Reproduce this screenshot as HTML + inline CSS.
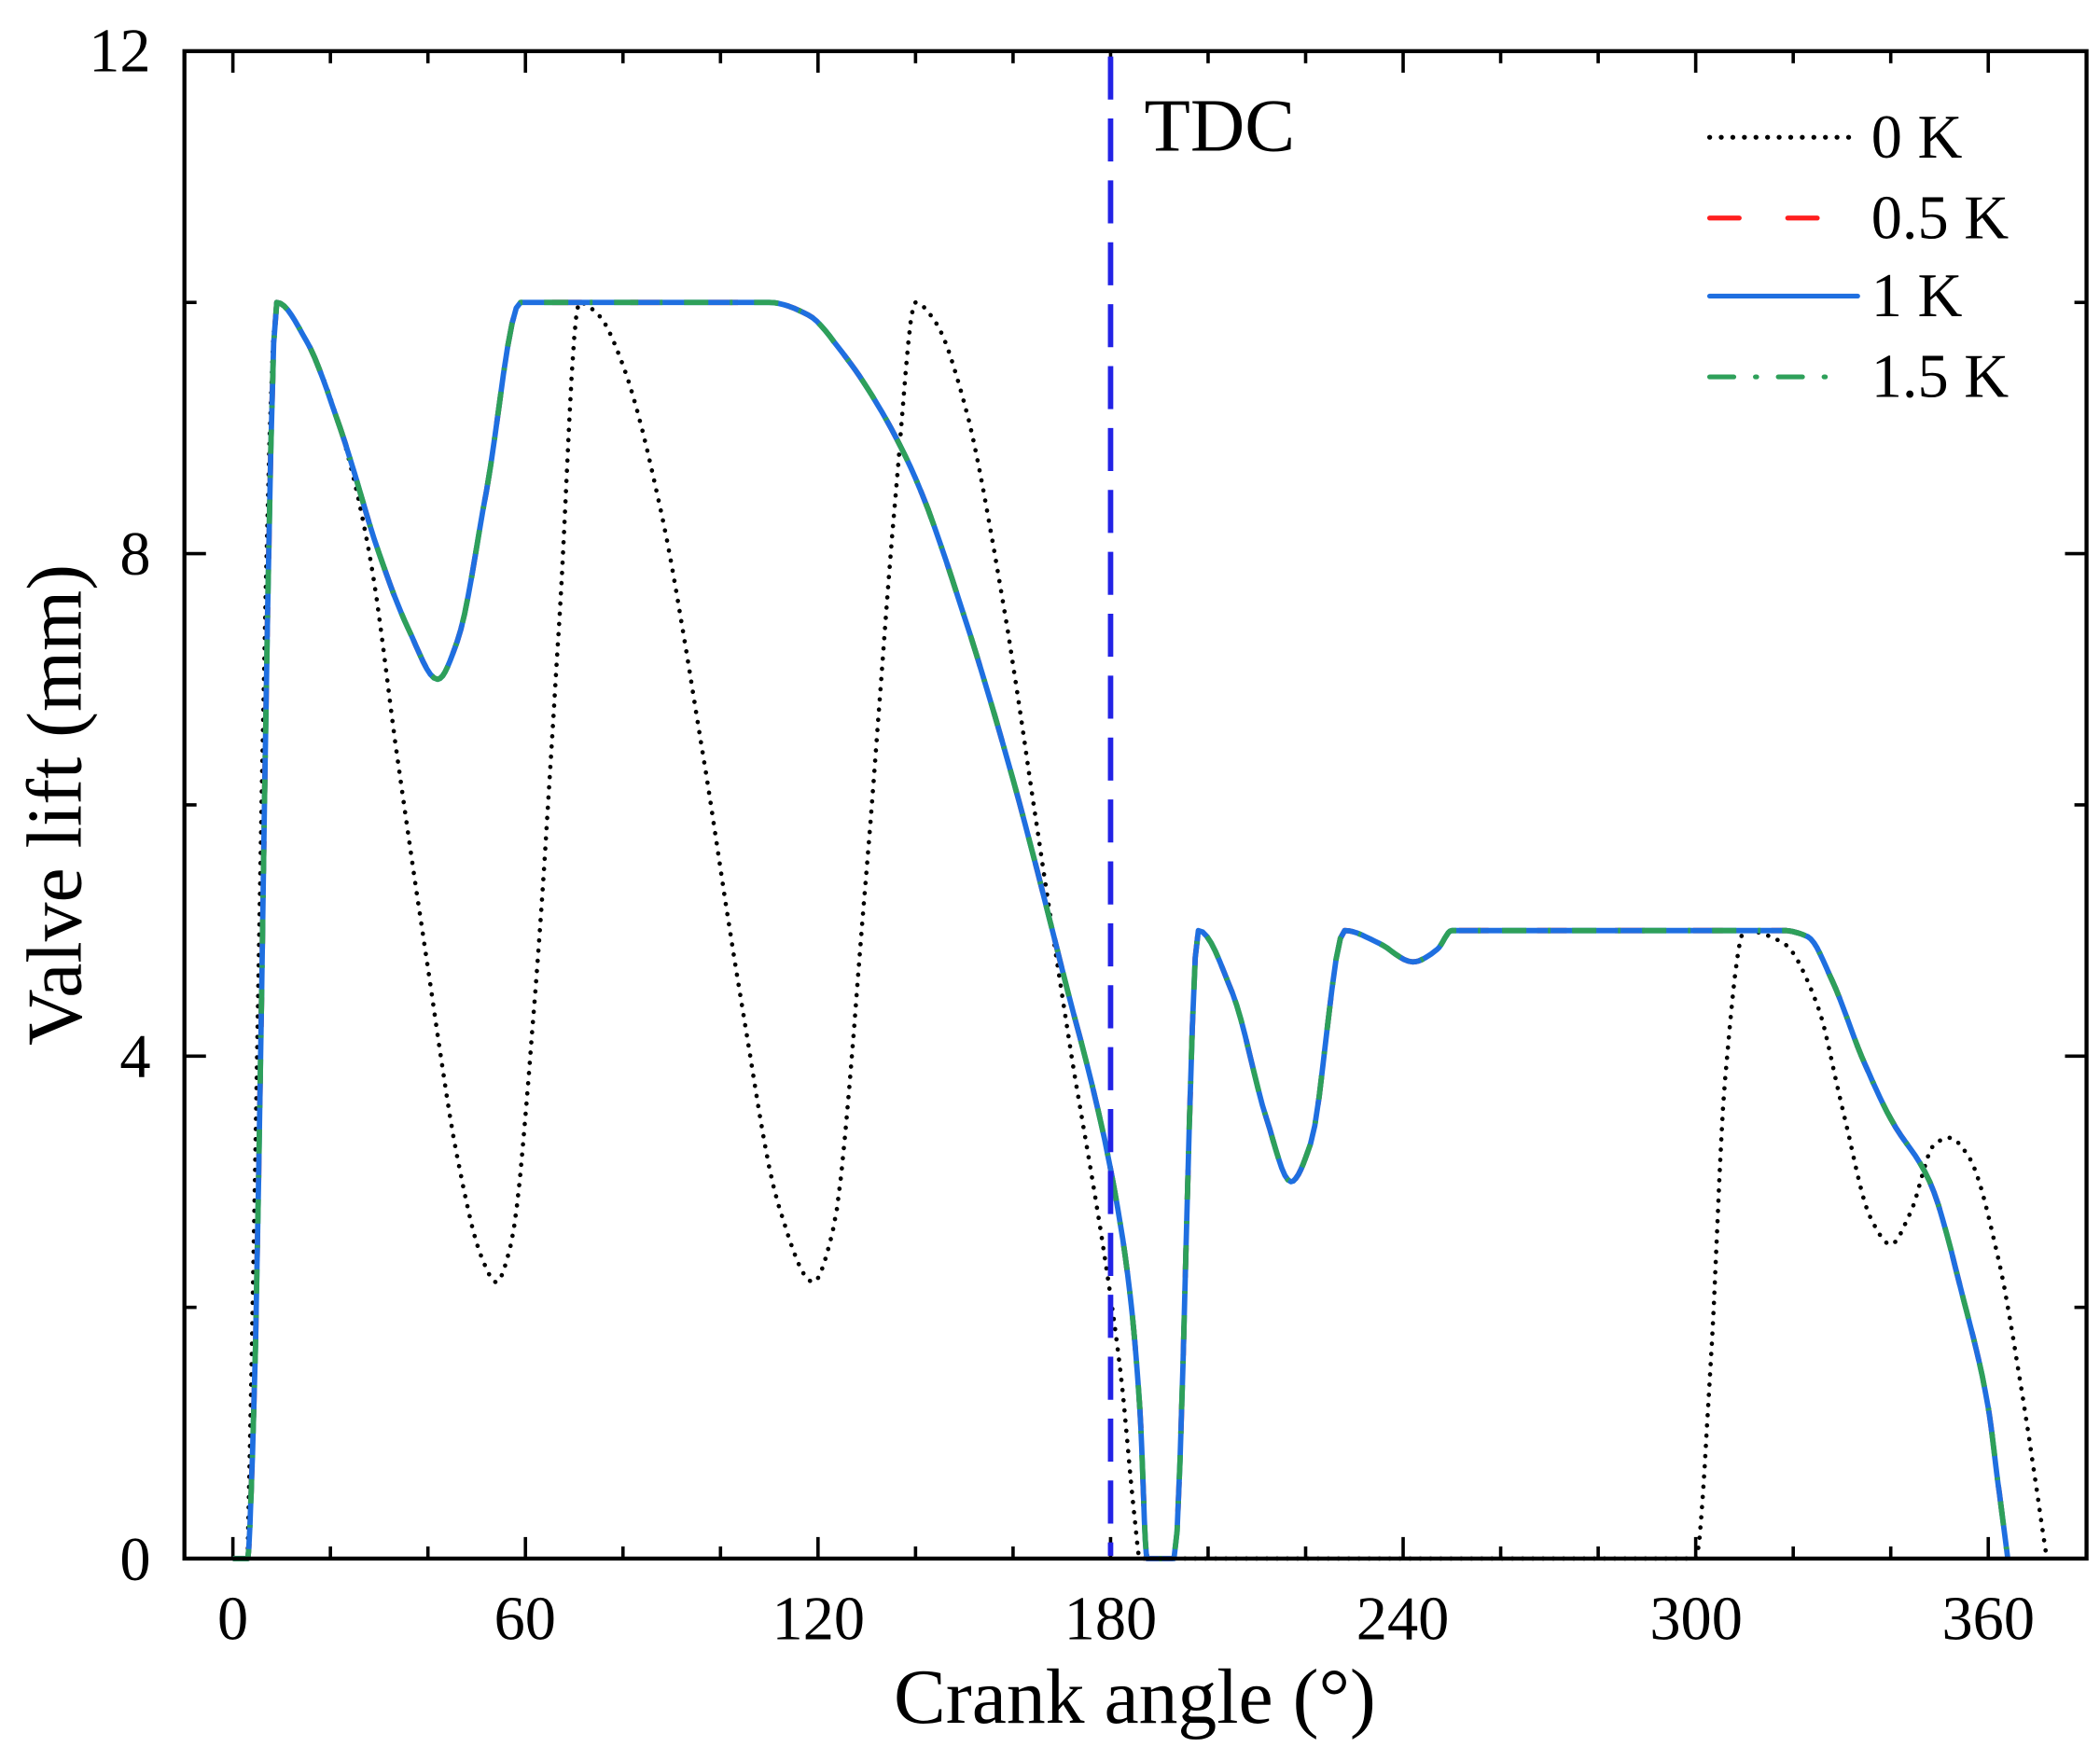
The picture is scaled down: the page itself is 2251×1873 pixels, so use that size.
<!DOCTYPE html>
<html><head><meta charset="utf-8"><style>
html,body{margin:0;padding:0;background:#fff}
svg{display:block}
text{font-family:"Liberation Serif","Times New Roman",serif;fill:#000}
</style></head><body>
<svg id="s" width="2251" height="1873" viewBox="0 0 1560 1298" preserveAspectRatio="none" xmlns="http://www.w3.org/2000/svg">
<rect x="0" y="0" width="1560" height="1298" fill="#fff"/>
<g id="ticks" stroke="#000" stroke-width="2.5"></g>
<g id="curves" fill="none" stroke-linejoin="round"></g>
<line x1="825" y1="42" x2="825" y2="1156" stroke="#2222e6" stroke-width="4" stroke-dasharray="32,14"/>
<rect x="137" y="38" width="1413" height="1120" fill="none" stroke="#000" stroke-width="3"/>
<g font-size="46" text-anchor="middle">
<text x="173" y="1218">0</text><text x="390" y="1218">60</text><text x="608" y="1218">120</text>
<text x="825" y="1218">180</text><text x="1042" y="1218">240</text><text x="1260" y="1218">300</text><text x="1477" y="1218">360</text>
</g>
<g font-size="46" text-anchor="end">
<text x="112" y="1174">0</text><text x="112" y="800">4</text><text x="112" y="427">8</text><text x="112" y="53">12</text>
</g>
<text x="843" y="1280" font-size="58" text-anchor="middle">Crank angle (°)</text>
<text transform="translate(60,598) rotate(-90)" font-size="58" text-anchor="middle">Valve lift (mm)</text>
<text x="850" y="112" font-size="56">TDC</text>
<g stroke-width="3.6" stroke-linecap="round">
<line x1="1270" y1="102" x2="1380" y2="102" stroke="#000" stroke-dasharray="0.1,8.5"/>
<line x1="1270" y1="162" x2="1355" y2="162" stroke="#ff1f1f" stroke-dasharray="22,36"/>
<line x1="1270" y1="220" x2="1380" y2="220" stroke="#1f6fe0"/>
<line x1="1270" y1="280" x2="1363" y2="280" stroke="#2ea05a" stroke-dasharray="18,16,1,16"/>
</g>
<g font-size="46">
<text x="1390" y="117">0 K</text><text x="1390" y="177">0.5 K</text><text x="1390" y="235">1 K</text><text x="1390" y="295">1.5 K</text>
</g>
</svg>
<script>
var X=function(d){return 173+d*(1304/360);},Y=function(v){return 1158-v*93.33;};
var tk=document.getElementById('ticks'),h='';
for(var d=0;d<=380;d+=20){var x=X(d);if(x>1548)break;var L=(d%60==0)?16:9;
h+='<line x1="'+x+'" y1="1158" x2="'+x+'" y2="'+(1158-L)+'"/><line x1="'+x+'" y1="38" x2="'+x+'" y2="'+(38+L)+'"/>';}
for(var v=0;v<=12;v+=2){var y=Y(v);var L=(v%4==0)?16:9;
h+='<line x1="137" y1="'+y+'" x2="'+(137+L)+'" y2="'+y+'"/><line x1="1550" y1="'+y+'" x2="'+(1550-L)+'" y2="'+y+'"/>';}
tk.innerHTML=h;
function mono(p){var n=p.length,dl=[],m=[];for(var i=0;i<n-1;i++)dl.push((p[i+1][1]-p[i][1])/(p[i+1][0]-p[i][0]));
m[0]=dl[0];m[n-1]=dl[n-2];for(var i=1;i<n-1;i++){if(dl[i-1]*dl[i]<=0)m[i]=0;else{var w1=2*(p[i+1][0]-p[i][0])+(p[i][0]-p[i-1][0]),w2=(p[i+1][0]-p[i][0])+2*(p[i][0]-p[i-1][0]);m[i]=(w1+w2)/(w1/dl[i-1]+w2/dl[i]);}}
var s='';for(var i=0;i<n-1;i++){var x0=p[i][0],x1=p[i+1][0],hh=x1-x0;for(var k=0;k<=8;k++){var t=k/8,t2=t*t,t3=t2*t;
var v=(2*t3-3*t2+1)*p[i][1]+(t3-2*t2+t)*hh*m[i]+(-2*t3+3*t2)*p[i+1][1]+(t3-t2)*hh*m[i+1];
s+=(s?'L':'M')+X(x0+t*hh).toFixed(1)+','+Y(v).toFixed(1);}}return s;}
var C=[[0,0],[3,0],[4,0.8],[9,10],[15,9.7],[22,9.0],[30,8],[36,7.4],[42,7.0],[46,7.3],[52,8.5],[59,10],[110,10],[118,9.9],[125,9.6],[132,9.2],[140,8.6],[150,7.5],[160,6.2],[170,4.7],[180,3.1],[184,2.1],[186,1.2],[187.5,0],[193,0],[198,5],[205,4.5],[212,3.5],[217,3.0],[221,3.3],[228,5],[235,4.9],[242,4.75],[247,4.85],[250,5],[318,5],[323,4.95],[328,4.6],[334,4.0],[340,3.5],[348,3.0],[355,2.05],[360,1.2],[362,0.6],[364,0]];
var B=[[3,0],[9,10],[15,9.7],[22,9.0],[28,8],[34,6.3],[40,4.7],[46,3.2],[51,2.4],[54,2.2],[57,2.5],[62,4.5],[67,7.5],[71,10],[75,9.9],[80,9.5],[88,8.3],[96,6.5],[104,4.5],[112,2.8],[119,2.2],[123,2.6],[130,5.5],[136,8.5],[140,10],[144,9.85],[150,9.2],[158,7.6],[165,5.8],[172,4.0],[178,2.6],[182,1.5],[185,0.3],[186,0],[300,0],[303,1.5],[306,3.8],[310,5],[318,4.9],[325,4.4],[330,3.6],[336,2.7],[340,2.5],[344,2.75],[349,3.3],[352,3.35],[356,3.2],[362,2.4],[367,1.3],[372,0]];
var pc=mono(C),pb=mono(B);
document.getElementById('curves').innerHTML=
'<path d="'+pb+'" stroke="#000" stroke-width="3.2" stroke-dasharray="0.1,7.5" stroke-linecap="round"/>'+
'<path d="'+pc+'" stroke="#ff1f1f" stroke-width="4" stroke-dasharray="22,36"/>'+
'<path d="'+pc+'" stroke="#1f6fe0" stroke-width="4"/>'+
'<path d="'+pc+'" stroke="#2ea05a" stroke-width="4" stroke-dasharray="18,16,2,16"/>';
</script>
</body></html>
